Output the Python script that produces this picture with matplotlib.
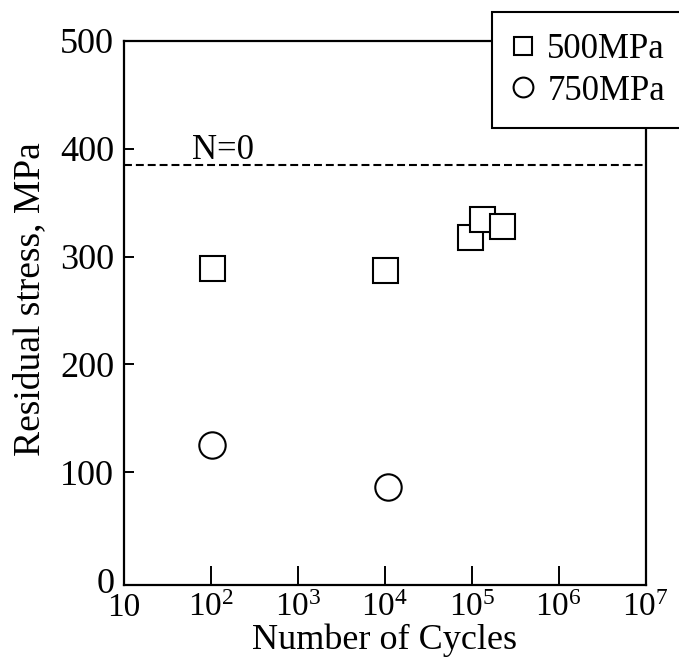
import matplotlib
matplotlib.use('Agg')
import matplotlib.pyplot as plt

# Data
cycles_500 = [103, 1.0e4, 9.6e4, 1.3e5, 2.2e5]
stress_500 = [289, 288, 318, 335, 328]
cycles_750 = [102, 1.1e4]
stress_750 = [125, 86]
initial_stress = 385

xtick_vals = [10, 1e2, 1e3, 1e4, 1e5, 1e6, 1e7]
xtick_labels = ['10', '$10^2$', '$10^3$', '$10^4$', '$10^5$', '$10^6$', '$10^7$']
ytick_vals = [0, 100, 200, 300, 400, 500]

plt.rcParams['font.family'] = ['Liberation Serif', 'DejaVu Serif']
plt.rcParams['mathtext.fontset'] = 'custom'
plt.rcParams['mathtext.rm'] = 'Liberation Serif'
plt.rcParams['mathtext.it'] = 'Liberation Serif'

fig = plt.figure(figsize=(6.79, 6.64), dpi=100)
# axes box: left 124px, right 646px, top 41px, bottom 585px
ax = fig.add_axes([0.1826, 0.119, 0.7684, 0.8193])

ax.plot(cycles_500, stress_500, linestyle='none', marker='s', markersize=18,
        markerfacecolor='white', markeredgecolor='black', markeredgewidth=1.5,
        label='500MPa')
ax.plot(cycles_750, stress_750, linestyle='none', marker='o', markersize=19,
        markerfacecolor='white', markeredgecolor='black', markeredgewidth=1.5,
        label='750MPa')

ax.axhline(initial_stress, color='black', linestyle=(0, (3.8, 1.9)), linewidth=1.5)
ax.text(60, 391, 'N=0', fontsize=25, ha='left', va='baseline')

ax.set_xscale('log')
ax.set_xlim(10, 1e7)
ax.set_ylim(-4.5, 500)
ax.set_xticks(xtick_vals)
ax.set_xticklabels(xtick_labels)
ax.minorticks_off()
ax.set_yticks(ytick_vals)

ax.tick_params(axis='x', direction='in', length=13.5, width=1.4, labelsize=24, pad=5.5)
ax.tick_params(axis='y', direction='in', length=7.5, width=1.4, labelsize=26, pad=7)
ax.tick_params(top=False, right=False)
# no tick mark at 0, the label sits on the corner
ax.yaxis.get_major_ticks()[0].tick1line.set_visible(False)
for s in ax.spines.values():
    s.set_linewidth(1.6)

ax.set_xlabel('Number of Cycles', fontsize=26, labelpad=0)
ax.set_ylabel('Residual stress, MPa', fontsize=27)
ax.yaxis.set_label_coords(-0.147, 0.526)

leg = ax.legend(loc='upper left', bbox_to_anchor=(0.705, 1.053), fontsize=25,
                frameon=True, fancybox=False, edgecolor='black', framealpha=1,
                markerscale=0.75, handlelength=0.6, handletextpad=0.4,
                borderpad=0.6, labelspacing=0.25, borderaxespad=0)
leg.get_frame().set_linewidth(1.5)

fig.savefig('out.png', dpi=100)
